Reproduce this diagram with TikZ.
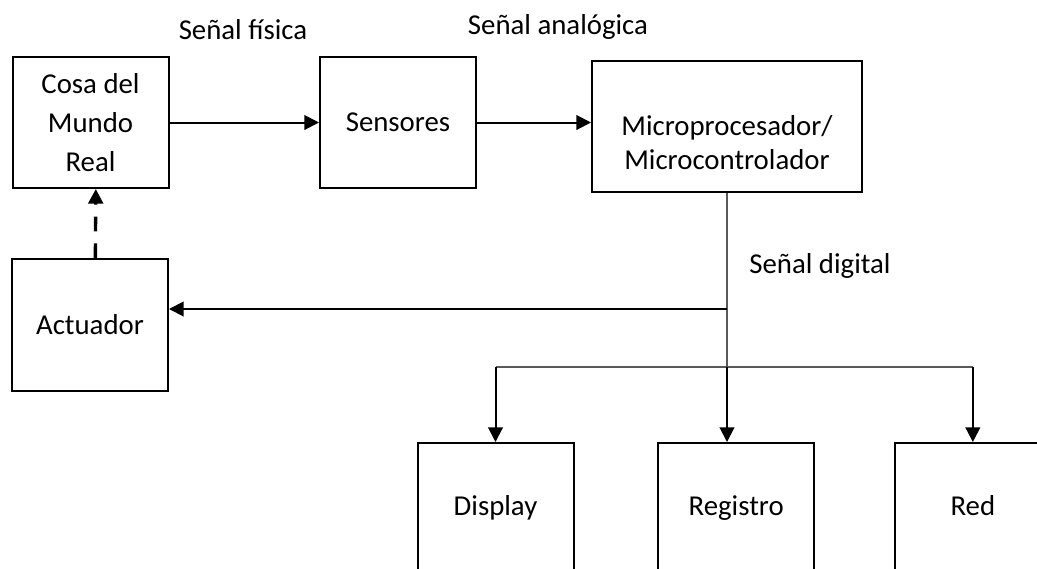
\documentclass[tikz,border=0pt]{standalone}
\usepackage{fontspec}
\setmainfont{Carlito}
\usepackage{tikz}
\usetikzlibrary{arrows.meta,positioning}

\definecolor{lineagris}{HTML}{595959}

\begin{document}
\begin{tikzpicture}[x=0.75pt,y=-0.75pt,>={Triangle[length=11pt,width=11pt]},
	line width=1.5pt,font=\fontsize{21.6}{26}\selectfont]
	\tikzstyle{bloque}=[draw,rectangle,minimum width=117pt,minimum height=98.25pt,
		align=center,inner sep=0pt]
	\tikzstyle{salida}=[bloque,minimum height=100.5pt,text height=11pt,text depth=3pt]
	\tikzstyle{flecha}=[->,line width=1.5pt]
	\tikzstyle{bus}=[draw=lineagris,line width=0.8pt]
	\tikzstyle{senal}=[inner sep=0pt]

	\useasboundingbox (0,0) rectangle (1037,568);

	\node[bloque] (cosa) at (90.5,122.5) {Cosa del\\[3pt]Mundo\\[3pt]Real};
	\node[bloque] (sens) at (398,122.5) {Sensores};
	\node[bloque,minimum width=202.5pt,
		label={[align=center,yshift=-12pt]center:{Microprocesador/\\Microcontrolador}}]
		(micro) at (727,126.5) {};
	\node[bloque,minimum height=99pt] (act) at (90,325) {Actuador};
	
	% salidas, cortadas por el borde inferior
	\node[salida] (disp) at (495.5,510) {Display};
	\node[salida] (reg) [right=62pt of disp] {Registro};
	\node[salida] (red) [right=59pt of reg] {Red};

	\node[senal] (fisica) at (243,30) {Señal física};
	\node[senal] (analog) at (558,27) {Señal analógica};
	\node[senal] (digital) at (820,266) {Señal digital};

	\coordinate (tap) at (micro.south |- 0,309);
	\coordinate (bus) at (micro.south |- 0,367);

	\path[flecha] (cosa.east) edge (sens.west);
	\path[flecha] (sens.east) edge (sens.east -| micro.west);
	\draw[bus] (micro.south) -- (bus);
	\draw[bus] (disp.north |- bus) -- (red.north |- bus);
	\path[flecha] (tap) edge (tap -| act.east);
	\path[flecha] (disp.north |- bus) edge (disp.north);
	\path[flecha] (bus) edge (bus |- reg.north);
	\path[flecha] (red.north |- bus) edge (red.north);
	\draw[flecha,line width=2.5pt,dash pattern=on 11pt off 9pt]
		([xshift=4pt]act.north) -- ([xshift=4pt]cosa.south);
\end{tikzpicture}
\end{document}
